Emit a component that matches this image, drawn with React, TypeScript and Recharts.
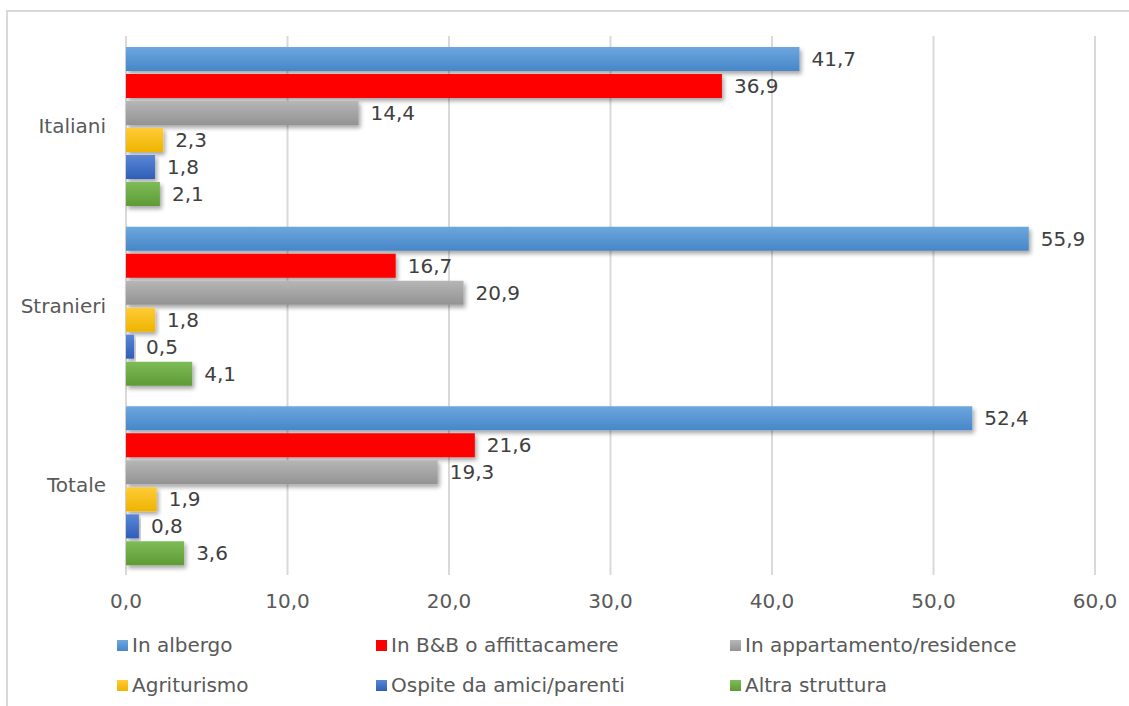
import React from 'react'
import { BarChart, Bar, XAxis, YAxis, CartesianGrid, LabelList } from 'recharts'

const categories = ['Italiani', 'Stranieri', 'Totale']
const albergo = [41.7, 55.9, 52.4]
const bb = [36.9, 16.7, 21.6]
const appartamento = [14.4, 20.9, 19.3]
const agriturismo = [2.3, 1.8, 1.9]
const ospite = [1.8, 0.5, 0.8]
const altra = [2.1, 4.1, 3.6]
const xTicks = [0, 10, 20, 30, 40, 50, 60]

const series = [
  { key: 'albergo', name: 'In albergo', values: albergo, top: '#6ca7de', bottom: '#4786c8' },
  { key: 'bb', name: 'In B&B o affittacamere', values: bb, top: '#ff0000', bottom: '#ff0000' },
  { key: 'appartamento', name: 'In appartamento/residence', values: appartamento, top: '#b6b6b6', bottom: '#939393' },
  { key: 'agriturismo', name: 'Agriturismo', values: agriturismo, top: '#ffcb38', bottom: '#eeb400' },
  { key: 'ospite', name: 'Ospite da amici/parenti', values: ospite, top: '#5b86d6', bottom: '#2e5eb8' },
  { key: 'altra', name: 'Altra struttura', values: altra, top: '#7ebc57', bottom: '#5e9b37' },
]

const data = categories.map((name, i) => {
  const row: any = { name }
  series.forEach((s) => { row[s.key] = s.values[i] })
  return row
})

const fmt = (v: any) => Number(v).toFixed(1).replace('.', ',')
const font = '"DejaVu Sans", Verdana, sans-serif'

// legend columns as in the original (3 per row)
const legendCols = [117, 376, 730]

export default function App() {
  return (
    <div style={{ position: 'fixed', left: 0, top: 0, width: 1129, height: 706, background: '#fff', overflow: 'hidden', fontFamily: font }}>
      <div style={{ position: 'absolute', left: 6, top: 10, width: 1300, height: 900, border: '2px solid #d9d9d9' }} />
      <div style={{ position: 'absolute', left: 0, top: 0 }}>
        <BarChart
          width={1129}
          height={706}
          data={data}
          layout="vertical"
          margin={{ top: 36, right: 34, left: 0, bottom: 91 }}
          barCategoryGap={11}
          barGap={3}
        >
          <defs>
            {series.map((s) => (
              <linearGradient key={s.key} id={'g-' + s.key} x1="0" y1="0" x2="0" y2="1">
                <stop offset="0%" stopColor={s.top} />
                <stop offset="100%" stopColor={s.bottom} />
              </linearGradient>
            ))}
            <filter id="shadow" x="-5%" y="-20%" width="120%" height="160%">
              <feDropShadow dx="2" dy="3" stdDeviation="2" floodColor="#000" floodOpacity="0.35" />
            </filter>
          </defs>
          <CartesianGrid horizontal={false} stroke="#d9d9d9" strokeWidth={2} />
          <XAxis
            type="number"
            domain={[0, 60]}
            ticks={xTicks}
            tickFormatter={fmt}
            axisLine={false}
            tickLine={false}
            tickSize={0}
            tickMargin={19}
            height={40}
            tick={{ fontSize: 20, fill: '#595959', fontFamily: font }}
          />
          <YAxis
            type="category"
            dataKey="name"
            width={126}
            axisLine={false}
            tickLine={false}
            tickSize={0}
            tickMargin={20}
            tick={{ fontSize: 20, fill: '#595959', fontFamily: font }}
          />
          {series.map((s) => (
            <Bar
              key={s.key}
              dataKey={s.key}
              name={s.name}
              fill={`url(#g-${s.key})`}
              filter="url(#shadow)"
              isAnimationActive={false}
            >
              <LabelList
                dataKey={s.key}
                position="right"
                offset={12}
                formatter={fmt}
                fill="#404040"
                fontSize={20}
                fontFamily={font}
              />
            </Bar>
          ))}
        </BarChart>
      </div>
      {series.map((s, i) => (
        <div
          key={s.key}
          style={{
            position: 'absolute',
            left: legendCols[i % 3],
            top: i < 3 ? 633 : 673,
            height: 24,
            display: 'flex',
            alignItems: 'center',
            fontSize: 20,
            color: '#595959',
            whiteSpace: 'nowrap',
          }}
        >
          <span style={{ display: 'inline-block', width: 11, height: 11, marginRight: 4, background: `linear-gradient(${s.top}, ${s.bottom})` }} />
          {s.name}
        </div>
      ))}
    </div>
  )
}
